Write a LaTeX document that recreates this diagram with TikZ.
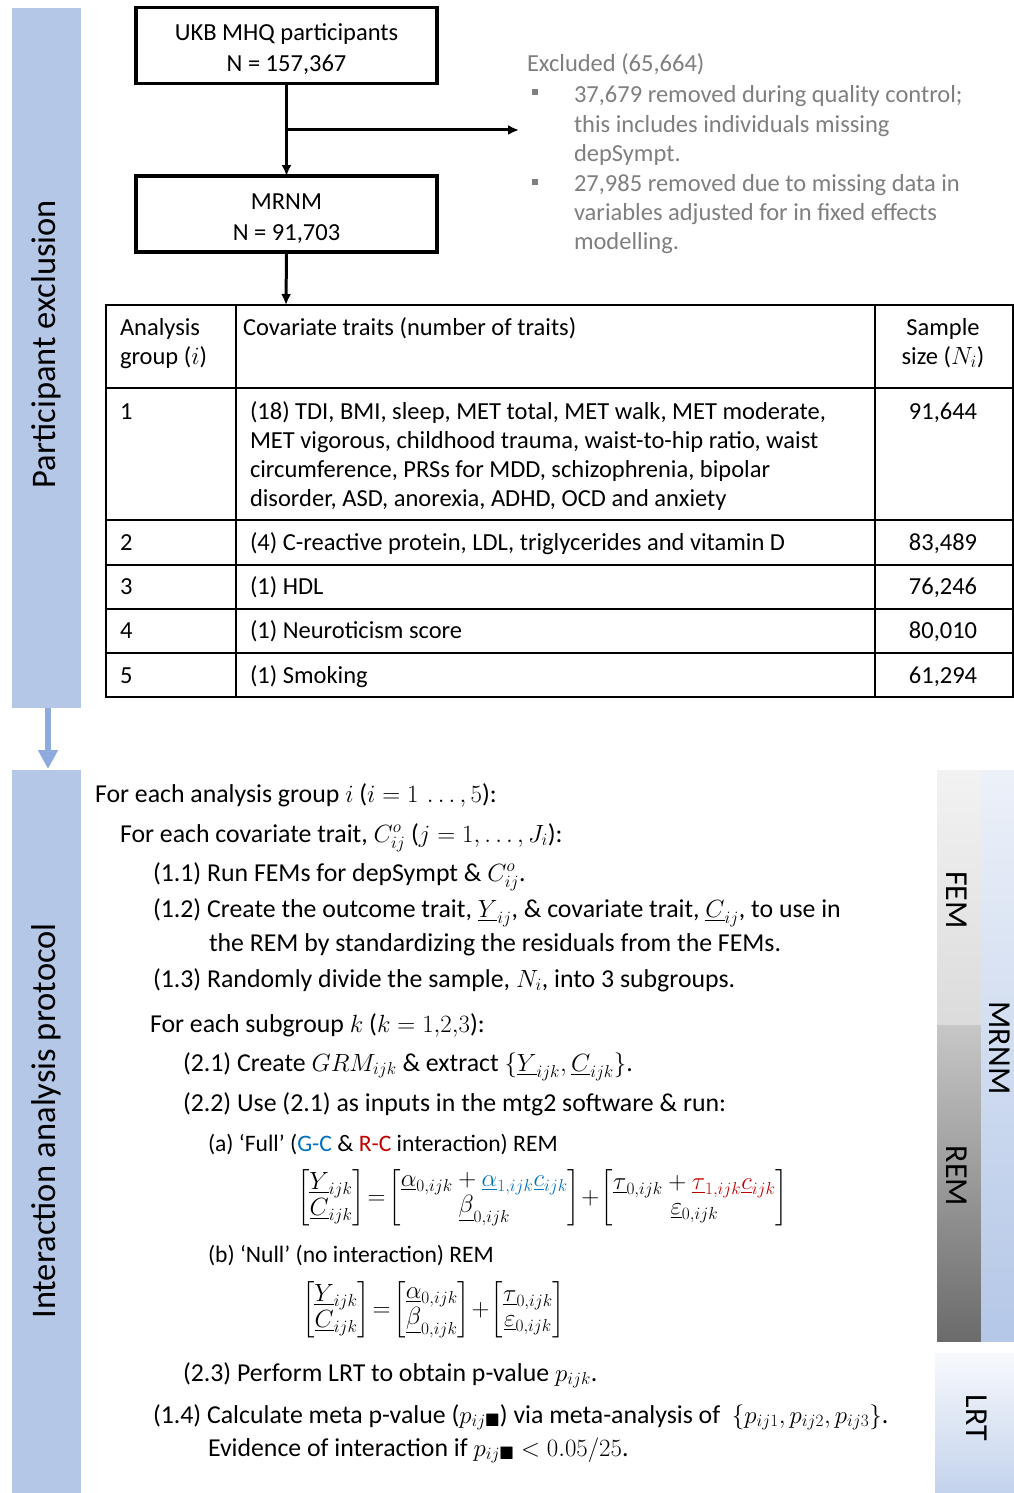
\documentclass[tikz,border=0pt]{standalone}
\usepackage{amsmath,amssymb}
\usepackage{fontspec}
\setmainfont{Carlito}
\usetikzlibrary{arrows.meta}
\definecolor{barblue}{HTML}{B4C7E7}
\definecolor{arrowblue}{HTML}{8FAADC}
\definecolor{exgray}{HTML}{7F7F7F}
\definecolor{gcblue}{HTML}{0070C0}
\definecolor{rcred}{HTML}{C00000}
\newcommand{\mybody}{\fontsize{24.5}{29.4}\selectfont}
\newcommand{\myproto}{\fontsize{25.8}{30}\selectfont}
\newcommand{\mysmall}{\fontsize{23.6}{28}\selectfont}
\newcommand{\myeq}{\fontsize{23.5}{27}\selectfont}
\newcommand{\mybig}{\fontsize{34.5}{40}\selectfont}
\newcommand{\myside}{\fontsize{32}{38}\selectfont}
\newcommand{\us}[1]{\underline{#1}}
\begin{document}
\begin{tikzpicture}[x=1pt,y=-1pt,
  every node/.style={inner sep=0pt,outer sep=0pt},
  txt/.style={anchor=base west,font=\mybody},
  ptxt/.style={anchor=base west,font=\myproto},
  stxt/.style={anchor=base west,font=\mysmall},
  ctxt/.style={anchor=base,font=\mybody},
  extxt/.style={anchor=base west,font=\mybody,text=exgray},
  eqnode/.style={anchor=west,font=\myeq},
  flowbox/.style={draw,line width=3.2pt,minimum width=301pt,minimum height=76pt,align=center,font=\mybody},
  flowarrow/.style={line width=3pt,-{Latex[length=11pt,width=10pt]}},
  tline/.style={line width=2pt},
  bulletsq/.style={fill=exgray,minimum size=6pt},
  sidelabel/.style={font=\mybig,rotate=90},
  vlabel/.style={font=\myside,rotate=-90}]
\path[use as bounding box] (0,0) rectangle (1014,1493);
\fill[white] (0,0) rectangle (1014,1493);

% left bars
\fill[barblue] (12,8) rectangle (81,708);
\fill[barblue] (12,770) rectangle (81,1493);
\node[sidelabel] (lab1) at (46,344) {Participant exclusion};
\node[sidelabel] (lab2) at (46,1121) {Interaction analysis protocol};
\coordinate (barA) at (48,708);
\coordinate (barB) at (48,769);
\draw[arrowblue,line width=6pt,-{Triangle[length=19pt,width=19pt]}] (barA) -- (barB);

% flow boxes
\node[flowbox] (ukb) at (286.5,45.5) {\rule{0pt}{25pt}UKB MHQ participants\\[1.5pt] N = 157,367};
\node[flowbox] (mrnm) at (286.5,214) {\rule{0pt}{25pt}MRNM\\[1.5pt] N = 91,703};
\coordinate (br) at (286,130);
\coordinate (exend) at (519,130);
\coordinate (ttop) at (286,305);
\draw[flowarrow] (ukb.south) -- (mrnm.north);
\draw[flowarrow] (br) -- (exend);
\draw[flowarrow] (mrnm.south) -- (ttop);

% excluded
\node[extxt] (ex0) at (527,72) {Excluded (65,664)};
\node[bulletsq] (bu1) at (534.5,92) {};
\node[extxt] (ex1) at (574,103) {37,679 removed during quality control;};
\node[extxt] (ex2) at (574,132) {this includes individuals missing};
\node[extxt] (ex3) at (574,161) {depSympt.};
\node[bulletsq] (bu2) at (534.5,182) {};
\node[extxt] (ex4) at (574,191) {27,985 removed due to missing data in};
\node[extxt] (ex5) at (574,220) {variables adjusted for in fixed effects};
\node[extxt] (ex6) at (574,249) {modelling.};

% table
\draw[tline] (106,305) rectangle (1013,697);
\draw[tline] (236,305) -- (236,697);
\draw[tline] (875,305) -- (875,697);
\draw[tline] (106,388) -- (1013,388);
\draw[tline] (106,520) -- (1013,520);
\draw[tline] (106,565) -- (1013,565);
\draw[tline] (106,609) -- (1013,609);
\draw[tline] (106,653) -- (1013,653);

\node[txt] (h1a) at (120,335) {Analysis};
\node[txt] (h1b) at (120,364) {group ($i$)};
\node[txt] (h2) at (243,335) {Covariate traits (number of traits)};
\node[ctxt] (h3a) at (943,335) {Sample};
\node[ctxt] (h3b) at (943,364) {size ($N_i$)};

\node[txt] (r1a) at (120,419) {1};
\node[txt] (r1b1) at (250,419) {(18) TDI, BMI, sleep, MET total, MET walk, MET moderate,};
\node[txt] (r1b2) at (250,448) {MET vigorous, childhood trauma, waist-to-hip ratio, waist};
\node[txt] (r1b3) at (250,477.5) {circumference, PRSs for MDD, schizophrenia, bipolar};
\node[txt] (r1b4) at (250,506.5) {disorder, ASD, anorexia, ADHD, OCD and anxiety};
\node[ctxt] (r1c) at (943,419) {91,644};

\node[txt] (r2a) at (120,550) {2};
\node[txt] (r2b) at (250,550) {(4) C-reactive protein, LDL, triglycerides and vitamin D};
\node[ctxt] (r2c) at (943,550) {83,489};
\node[txt] (r3a) at (120,594.5) {3};
\node[txt] (r3b) at (250,594.5) {(1) HDL};
\node[ctxt] (r3c) at (943,594.5) {76,246};
\node[txt] (r4a) at (120,638.5) {4};
\node[txt] (r4b) at (250,638.5) {(1) Neuroticism score};
\node[ctxt] (r4c) at (943,638.5) {80,010};
\node[txt] (r5a) at (120,683.5) {5};
\node[txt] (r5b) at (250,683.5) {(1) Smoking};
\node[ctxt] (r5c) at (943,683.5) {61,294};

% right bars
\shade[top color=black!5,bottom color=black!14] (937,770) rectangle (981,1025);
\shade[top color=black!22,bottom color=black!58] (937,1025) rectangle (981,1341);
\shade[top color=barblue!25,bottom color=barblue] (981,770) rectangle (1014,1341);
\shade[top color=barblue!10,bottom color=barblue!100!arrowblue!80] (935,1353) rectangle (1014,1493);
\node[vlabel] (fem) at (957,900) {FEM};
\node[vlabel] (rem) at (957,1176) {REM};
\node[vlabel] (mrnmlab) at (1000,1048) {MRNM};
\node[vlabel] (lrt) at (977,1418) {LRT};

% protocol
\node[ptxt] (p1) at (95,802) {For each analysis group $i$ ($i = 1\,\ldots,5$):};
\node[ptxt] (p2) at (120,842) {For each covariate trait, $C^{o}_{ij}$ ($j = 1,\ldots,J_i$):};
\node[ptxt] (p3) at (153,881) {(1.1) Run FEMs for depSympt \& $C^{o}_{ij}$.};
\node[ptxt] (p4) at (153,917) {(1.2) Create the outcome trait, $\us{Y}_{ij}$, \& covariate trait, $\us{C}_{ij}$, to use in};
\node[ptxt] (p5) at (209,951) {the REM by standardizing the residuals from the FEMs.};
\node[ptxt] (p6) at (153,987) {(1.3) Randomly divide the sample, $N_i$, into 3 subgroups.};
\node[ptxt] (p7) at (150,1032) {For each subgroup $k$ ($k = 1{,}2{,}3$):};
\node[ptxt] (p8) at (183,1071) {(2.1) Create $GRM_{ijk}$ \& extract $\{\us{Y}_{ijk},\us{C}_{ijk}\}$.};
\node[ptxt] (p9) at (183,1111) {(2.2) Use (2.1) as inputs in the mtg2 software \& run:};
\node[stxt] (p10) at (208,1151) {(a) ‘Full’ (\textcolor{gcblue}{G-C} \& \textcolor{rcred}{R-C} interaction) REM};
\node[eqnode] (eq1) at (297,1198) {\renewcommand{\arraystretch}{0.85}$\begin{bmatrix}\us{Y}_{ijk}\\ \us{C}_{ijk}\end{bmatrix}\!=\!\begin{bmatrix}\us{\alpha}_{0,ijk}+\textcolor{gcblue}{\us{\alpha}_{1,ijk}\us{c}_{ijk}}\\ \us{\beta}_{0,ijk}\end{bmatrix}\!+\!\begin{bmatrix}\us{\tau}_{0,ijk}+\textcolor{rcred}{\us{\tau}_{1,ijk}\us{c}_{ijk}}\\ \us{\varepsilon}_{0,ijk}\end{bmatrix}$};
\node[stxt] (p11) at (208,1262) {(b) ‘Null’ (no interaction) REM};
\node[eqnode] (eq2) at (302,1310) {\renewcommand{\arraystretch}{0.85}$\begin{bmatrix}\us{Y}_{ijk}\\ \us{C}_{ijk}\end{bmatrix}\!=\!\begin{bmatrix}\us{\alpha}_{0,ijk}\\ \us{\beta}_{0,ijk}\end{bmatrix}\!+\!\begin{bmatrix}\us{\tau}_{0,ijk}\\ \us{\varepsilon}_{0,ijk}\end{bmatrix}$};
\node[ptxt] (p12) at (183,1381) {(2.3) Perform LRT to obtain p-value $p_{ijk}$.};
\node[ptxt] (p13) at (153,1423) {(1.4) Calculate meta p-value ($p_{ij\blacksquare}$) via meta-analysis of \ $\{p_{ij1},p_{ij2},p_{ij3}\}$.};
\node[ptxt] (p14) at (208,1456) {Evidence of interaction if $p_{ij\blacksquare} < 0.05/25$.};
\end{tikzpicture}
\end{document}
